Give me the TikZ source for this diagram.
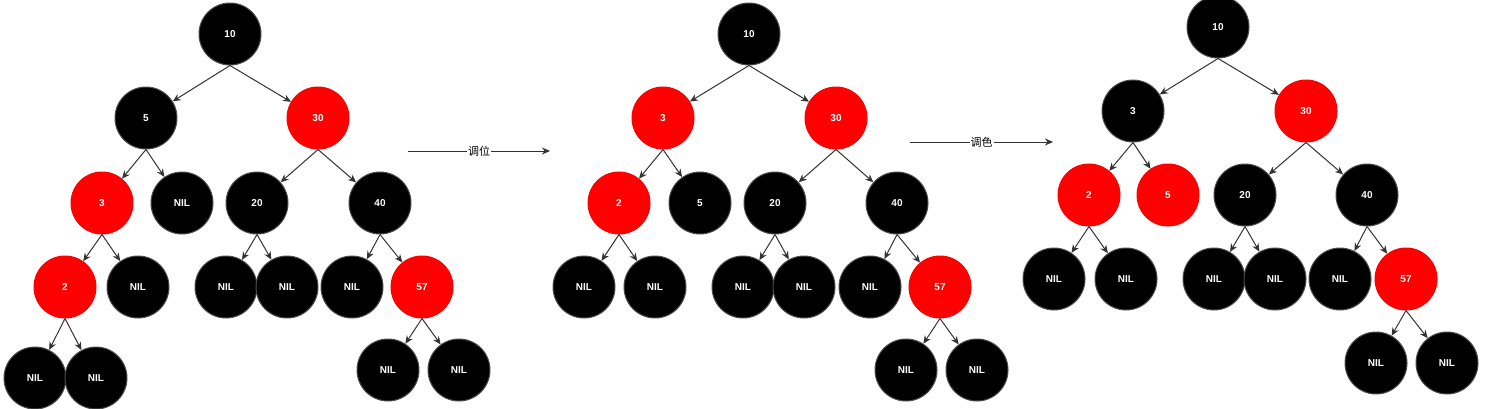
\documentclass[tikz,border=0pt]{standalone}
\usepackage{fontspec}
\setmainfont{Liberation Sans}
\newfontfamily\cjk{Noto Sans CJK SC}
\usetikzlibrary{arrows.meta}
\begin{document}
\begin{tikzpicture}[x=1pt,y=-1pt,
  b/.style={circle,fill=black,draw=black!70,line width=1pt,minimum size=62pt,inner sep=0pt,text=white,font=\fontsize{10}{12}\selectfont\bfseries},
  r/.style={b,fill=red,draw=red},
  e/.style={draw=black!80,line width=1pt,-{Stealth[length=8pt,width=7pt]}},
  lab/.style={fill=white,inner sep=1pt,font=\cjk\fontsize{11}{13}\selectfont}]
\useasboundingbox (0,0) rectangle (1487,408);
% tree 1
\node[b] (a10) at (230,34) {10};
\node[b] (a5) at (146,118) {5};
\node[r] (a30) at (318,118) {30};
\node[r] (a3) at (102,203) {3};
\node[b] (an5) at (182,203) {NIL};
\node[b] (a20) at (257,203) {20};
\node[b] (a40) at (380,203) {40};
\node[r] (a2) at (65,287) {2};
\node[b] (an3) at (138,287) {NIL};
\node[b] (an20a) at (226,287) {NIL};
\node[b] (an20b) at (287,287) {NIL};
\node[b] (an40) at (352,287) {NIL};
\node[r] (a57) at (422,287) {57};
\node[b] (an2a) at (35,378) {NIL};
\node[b] (an2b) at (96,378) {NIL};
\node[b] (an57a) at (388,370) {NIL};
\node[b] (an57b) at (459,370) {NIL};
\foreach \p/\c in {a10/a5,a10/a30,a5/a3,a5/an5,a30/a20,a30/a40,a3/a2,a3/an3,a20/an20a,a20/an20b,a40/an40,a40/a57,a2/an2a,a2/an2b,a57/an57a,a57/an57b}
  \draw[e] (\p.south) -- (\c);
% tree 2
\node[b] (b10) at (749,34) {10};
\node[r] (b3) at (663,118) {3};
\node[r] (b30) at (836,118) {30};
\node[r] (b2) at (619,203) {2};
\node[b] (b5) at (700,203) {5};
\node[b] (b20) at (775,203) {20};
\node[b] (b40) at (897,203) {40};
\node[b] (bn2a) at (584,287) {NIL};
\node[b] (bn2b) at (655,287) {NIL};
\node[b] (bn20a) at (743,287) {NIL};
\node[b] (bn20b) at (804,287) {NIL};
\node[b] (bn40) at (870,287) {NIL};
\node[r] (b57) at (940,287) {57};
\node[b] (bn57a) at (906,370) {NIL};
\node[b] (bn57b) at (977,370) {NIL};
\foreach \p/\c in {b10/b3,b10/b30,b3/b2,b3/b5,b30/b20,b30/b40,b2/bn2a,b2/bn2b,b20/bn20a,b20/bn20b,b40/bn40,b40/b57,b57/bn57a,b57/bn57b}
  \draw[e] (\p.south) -- (\c);
% tree 3
\node[b] (c10) at (1218,27) {10};
\node[b] (c3) at (1133,111) {3};
\node[r] (c30) at (1306,111) {30};
\node[r] (c2) at (1089,195) {2};
\node[r] (c5) at (1168,195) {5};
\node[b] (c20) at (1245,195) {20};
\node[b] (c40) at (1367,195) {40};
\node[b] (cn2a) at (1054,279) {NIL};
\node[b] (cn2b) at (1126,279) {NIL};
\node[b] (cn20a) at (1214,279) {NIL};
\node[b] (cn20b) at (1275,279) {NIL};
\node[b] (cn40) at (1340,279) {NIL};
\node[r] (c57) at (1406,279) {57};
\node[b] (cn57a) at (1376,363) {NIL};
\node[b] (cn57b) at (1447,363) {NIL};
\foreach \p/\c in {c10/c3,c10/c30,c3/c2,c3/c5,c30/c20,c30/c40,c2/cn2a,c2/cn2b,c20/cn20a,c20/cn20b,c40/cn40,c40/c57,c57/cn57a,c57/cn57b}
  \draw[e] (\p.south) -- (\c);
% step arrows
\coordinate (s1) at (408,151); \coordinate (t1) at (550,151);
\coordinate (s2) at (910,142); \coordinate (t2) at (1053,142);
\draw[e] (s1) -- node[lab] {调位} (t1);
\draw[e] (s2) -- node[lab] {调色} (t2);
\end{tikzpicture}
\end{document}
